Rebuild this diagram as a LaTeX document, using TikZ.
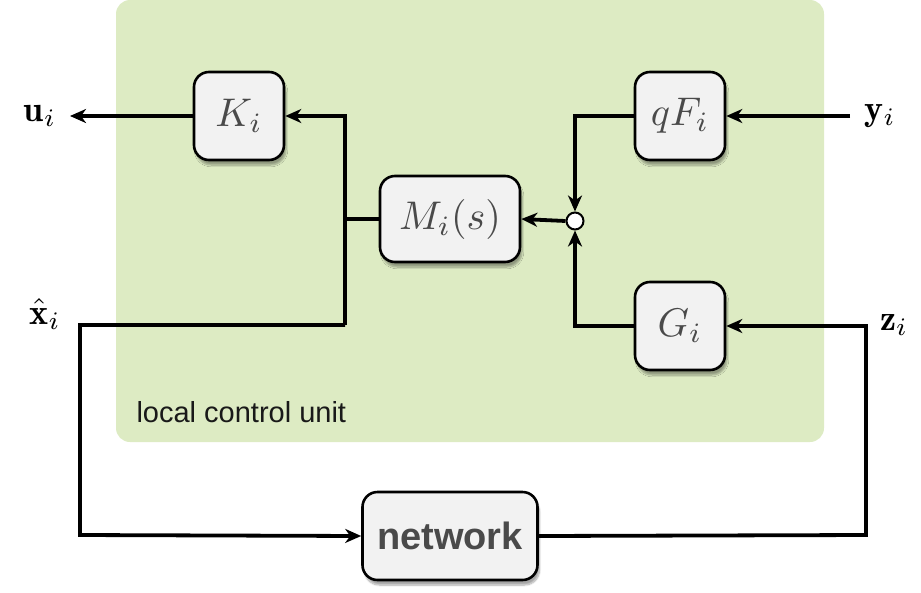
\documentclass[tikz,border=0pt]{standalone}
\usepackage{amsmath}
\usepackage{graphicx}
\usepackage{fontspec}
\setsansfont{Liberation Sans}
\usetikzlibrary{arrows.meta,shadows.blur}
\definecolor{unitgreen}{HTML}{DDEBC3}
\definecolor{boxfill}{HTML}{F2F2F2}
\definecolor{boxtext}{HTML}{4A4A4A}
% math set at 10pt and enlarged
\newcommand{\blockmath}[1]{\scalebox{4}{$#1$}}
\newcommand{\sigmath}[1]{\scalebox{3.6}{$#1$}}
\tikzset{
  blockbox/.style={draw=black, line width=2.6pt, fill=boxfill, rounded corners=15pt,
    minimum width=90pt, minimum height=88pt, inner sep=0pt, text=boxtext,
    blur shadow={shadow xshift=2pt, shadow yshift=-5pt, shadow blur steps=8, shadow opacity=35}},
  sig/.style={line width=3.8pt, line join=miter},
  arr/.style={sig, -{Stealth[length=16pt, width=14pt, inset=5pt]}},
  extlabel/.style={inner sep=0pt},
}
\begin{document}
\begin{tikzpicture}[x=1pt, y=-1pt]
  \useasboundingbox (0,0) rectangle (921,592);
  % local control unit background
  \fill[unitgreen, rounded corners=14pt] (116,0) rectangle (824,442);
  \node[anchor=west, font=\sffamily\fontsize{29}{32}\selectfont, text=black!90] (lcu) at (133,412) {local control unit};

  % blocks
  \node[blockbox] (K) at (239,116) {\blockmath{K_i}};
  \node[blockbox] (F) at (680,116) {\blockmath{qF_i}};
  \node[blockbox, minimum width=140pt, minimum height=86pt] (M) at (450,219) {\blockmath{M_i(s)}};
  \node[blockbox] (G) at (680,326) {\blockmath{G_i}};
  \node[blockbox, minimum width=175pt, minimum height=88pt, font=\sffamily\bfseries\fontsize{38}{42}\selectfont] (net) at (450,536) {network};

  % summing junction
  \node[circle, draw=black, line width=2pt, fill=white, minimum size=17pt, inner sep=0pt] (sum) at (575,221) {};

  % external signals
  \node[extlabel] (u) at (40,116) {\sigmath{\mathbf{u}_i}};
  \node[extlabel] (xh) at (45,314) {\sigmath{\hat{\mathbf{x}}_i}};
  \node[extlabel] (y) at (880,116) {\sigmath{\mathbf{y}_i}};
  \node[extlabel] (z) at (894,325) {\sigmath{\mathbf{z}_i}};

  \coordinate (uend) at (70,116);
  \coordinate (yin) at (850,116);
  \coordinate (split) at (345,219);
  \coordinate (zin) at (866,535);

  % connections
  \draw[arr] (K.west) -- (uend);
  \draw[arr] (yin) -- (F.east);
  \draw[arr] (F.west) -- (F.west -| sum) -- (sum.north);
  \draw[arr] (G.west) -- (G.west -| sum) -- (sum.south);
  \draw[arr] (sum.west) -- (M.east);
  \draw[sig] (M.west) -- (split);
  \draw[arr] (345,325) -- (345,116) -- (K.east);
  \draw[arr] (345,325) -- (80,325) -- (80,535) -- (net.west);
  \draw[arr] (net.east) -- (zin) -- (zin |- G.east) -- (G.east);
\end{tikzpicture}
\end{document}
